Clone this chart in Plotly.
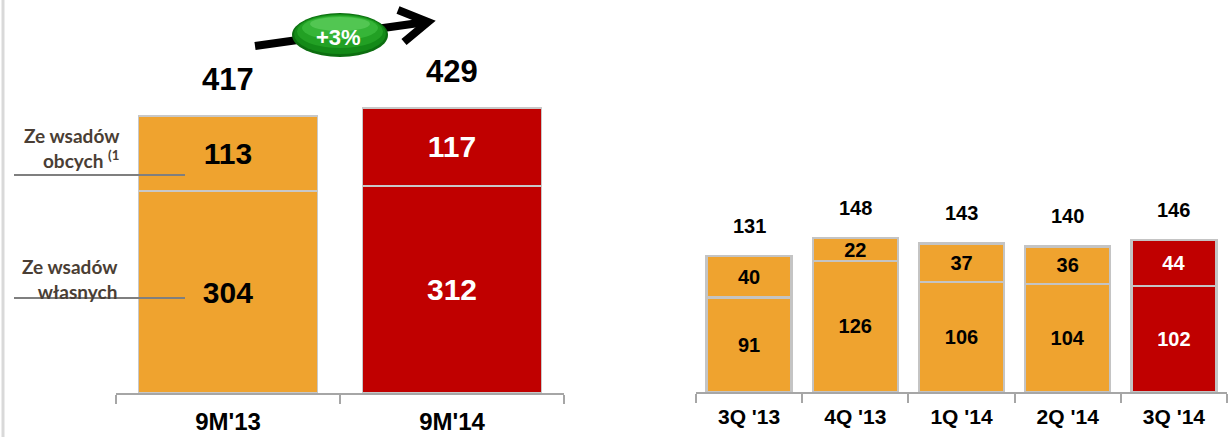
import plotly.graph_objects as go

# --- data ---
periods = ["9M'13", "9M'14"]
own_9m = [304, 312]          # Ze wsadów własnych
foreign_9m = [113, 117]      # Ze wsadów obcych
quarters = ["3Q '13", "4Q '13", "1Q '14", "2Q '14", "3Q '14"]
own_q = [91, 126, 106, 104, 102]
foreign_q = [40, 22, 37, 36, 44]
growth_label = "+3%"

W, H = 1231, 437
ORANGE = "#EFA32F"
RED = "#C00000"
NUM_FONT = "Arial, Liberation Sans, sans-serif"


def px(x):
    return x / W


def py(y):
    return 1 - y / H


def bar_colors(n):
    return [ORANGE] * (n - 1) + [RED]


def text_colors(n):
    return ["black"] * (n - 1) + ["white"]


fig = go.Figure()

# left panel: 9M totals
for vals in (own_9m, foreign_9m):
    fig.add_trace(go.Bar(
        x=periods, y=vals, xaxis="x", yaxis="y",
        marker=dict(color=bar_colors(len(periods)), line=dict(color="#C8C8C8", width=1.5)),
        text=[str(v) for v in vals], textposition="inside", insidetextanchor="middle",
        textangle=0, constraintext="none",
        textfont=dict(family=NUM_FONT, size=30, color=text_colors(len(periods)), weight="bold"),
        hoverinfo="skip", showlegend=False,
    ))

# right panel: quarterly
for vals in (own_q, foreign_q):
    fig.add_trace(go.Bar(
        x=quarters, y=vals, xaxis="x2", yaxis="y2",
        marker=dict(color=bar_colors(len(quarters)), line=dict(color="#C4C4C4", width=2.5)),
        text=[str(v) for v in vals], textposition="inside", insidetextanchor="middle",
        textangle=0, constraintext="none",
        textfont=dict(family=NUM_FONT, size=20, color=text_colors(len(quarters)), weight="bold"),
        hoverinfo="skip", showlegend=False,
    ))

annotations = []
# totals above the bars
for cat, a, b in zip(periods, own_9m, foreign_9m):
    annotations.append(dict(x=cat, y=a + b, xref="x", yref="y", text=str(a + b),
                            showarrow=False, yanchor="middle", yshift=37,
                            font=dict(family=NUM_FONT, size=31, color="black", weight="bold")))
for cat, a, b in zip(quarters, own_q, foreign_q):
    annotations.append(dict(x=cat, y=a + b, xref="x2", yref="y2", text=str(a + b),
                            showarrow=False, yanchor="middle", yshift=30,
                            font=dict(family=NUM_FONT, size=20, color="black", weight="bold")))

# series descriptions on the left
LBL_FONT = dict(family="Lato, Open Sans, sans-serif", size=19, color="#4A3E34", weight="bold")
annotations.append(dict(x=px(122), y=py(148), xref="paper", yref="paper", xanchor="right",
                        yanchor="middle", align="right", showarrow=False,
                        text="Ze wsadów<br>obcych <sup>(1</sup>", font=LBL_FONT))
annotations.append(dict(x=px(120), y=py(279), xref="paper", yref="paper", xanchor="right",
                        yanchor="middle", align="right", showarrow=False,
                        text="Ze wsadów<br>własnych", font=LBL_FONT))

# growth badge text
annotations.append(dict(x=px(338), y=py(38), xref="paper", yref="paper", showarrow=False,
                        xanchor="center", yanchor="middle", text=growth_label,
                        font=dict(family=NUM_FONT, size=22, color="white", weight="bold")))

shapes = [
    # light frame line on the left edge
    dict(type="line", xref="paper", yref="paper", x0=px(3), x1=px(3), y0=0, y1=1,
         line=dict(color="#D9D9D9", width=3)),
    # leader lines under the series descriptions
    dict(type="line", xref="paper", yref="paper", x0=px(14), x1=px(185), y0=py(175), y1=py(175),
         line=dict(color="#7F7F7F", width=2)),
    dict(type="line", xref="paper", yref="paper", x0=px(14), x1=px(185), y0=py(298), y1=py(298),
         line=dict(color="#7F7F7F", width=2)),
    # growth arrow shaft and head
    dict(type="path", xref="paper", yref="paper",
         path=f"M {px(255)},{py(46)} L {px(426)},{py(22)}",
         line=dict(color="black", width=8)),
    dict(type="path", xref="paper", yref="paper",
         path=f"M {px(398)},{py(10)} L {px(428)},{py(22)} L {px(404)},{py(42)}",
         line=dict(color="black", width=8)),
]

# green oval badge, shaded with stacked ellipses (dark rim, lighter top)
badge_layers = [
    (292, 388, 13, 57, "#0C6E10"),
    (294, 386, 14, 54, "#148A18"),
    (297, 383, 15, 48, "#22A024"),
    (302, 378, 16, 40, "#36B538"),
    (310, 370, 17, 31, "#52C652"),
]
for x0, x1, y0, y1, col in badge_layers:
    shapes.append(dict(type="circle", xref="paper", yref="paper",
                       x0=px(x0), x1=px(x1), y0=py(y1), y1=py(y0),
                       fillcolor=col, line=dict(width=0)))

axis_common = dict(
    type="category", showline=True, linecolor="#A6A6A6", linewidth=2,
    ticks="outside", tickson="boundaries", ticklen=9, tickcolor="#A6A6A6", tickwidth=2,
    showgrid=False, zeroline=False, fixedrange=True, automargin=False,
)

fig.update_layout(
    width=W, height=H,
    margin=dict(l=0, r=0, t=0, b=0),
    paper_bgcolor="white", plot_bgcolor="white",
    barmode="stack", bargap=0.2,
    xaxis=dict(domain=[px(116), px(564)], anchor="y", ticklabelstandoff=6,
               tickfont=dict(family=NUM_FONT, size=24, color="black", weight="bold"),
               **axis_common),
    yaxis=dict(domain=[1 - 393 / H, 1], range=[0, 393 / 0.664], visible=False,
               fixedrange=True, automargin=False),
    xaxis2=dict(domain=[px(696), px(1227)], anchor="y2", ticklabelstandoff=5,
                tickfont=dict(family=NUM_FONT, size=21, color="black", weight="bold"),
                **axis_common),
    yaxis2=dict(domain=[1 - 392 / H, 1], range=[0, 392 / 1.04], visible=False,
                fixedrange=True, automargin=False),
    annotations=annotations,
    shapes=shapes,
)

fig.write_html("out.html")
